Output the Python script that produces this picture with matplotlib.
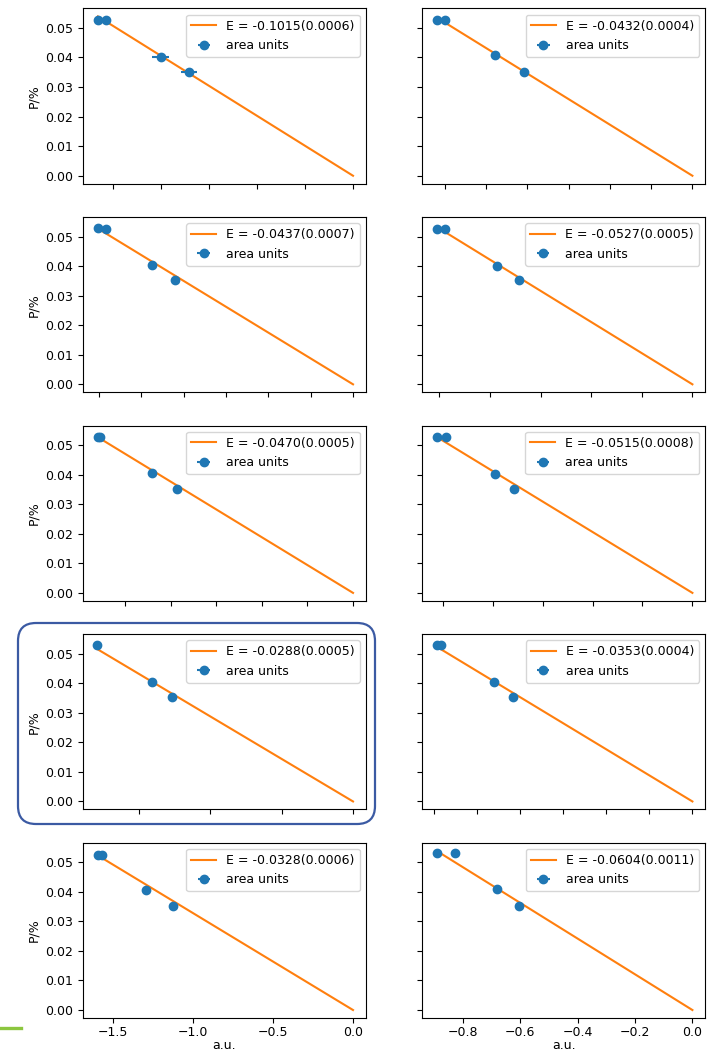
import matplotlib
matplotlib.use("Agg")
import matplotlib.pyplot as plt
import matplotlib.patches as mpatches
from matplotlib.lines import Line2D
from matplotlib.transforms import IdentityTransform

plt.rcParams['font.size'] = 9

# fitted slope E and its uncertainty for each run (row-major: left, right)
E_vals = [-0.1015, -0.0432, -0.0437, -0.0527, -0.0470,
          -0.0515, -0.0288, -0.0353, -0.0328, -0.0604]
E_errs = [0.0006, 0.0004, 0.0007, 0.0005, 0.0005,
          0.0008, 0.0005, 0.0004, 0.0006, 0.0011]

# measured points per run
x_pts = [
    [-0.531, -0.515, -0.400, -0.341],
    [-1.238, -1.198, -0.955, -0.818],
    [-1.207, -1.167, -0.950, -0.843],
    [-1.010, -0.977, -0.771, -0.685],
    [-1.121, -1.111, -0.883, -0.773],
    [-1.024, -0.987, -0.790, -0.715],
    [-1.789, -1.404, -1.268],
    [-1.483, -1.458, -1.151, -1.043],
    [-1.596, -1.571, -1.293, -1.126],
    [-0.891, -0.829, -0.681, -0.604],
]
y_pts = [
    [0.0527, 0.0527, 0.0402, 0.0352],
    [0.0528, 0.0528, 0.0409, 0.0352],
    [0.0529, 0.0524, 0.0405, 0.0352],
    [0.0524, 0.0524, 0.0401, 0.0352],
    [0.0526, 0.0526, 0.0404, 0.0351],
    [0.0528, 0.0528, 0.0403, 0.0351],
    [0.0528, 0.0404, 0.0354],
    [0.0528, 0.0528, 0.0405, 0.0354],
    [0.0524, 0.0524, 0.0405, 0.0353],
    [0.0530, 0.0530, 0.0408, 0.0352],
]
x_errs = [
    [0.004, 0.004, 0.018, 0.017],
    [0.008, 0.008, 0.008, 0.008],
    [0.008, 0.008, 0.008, 0.008],
    [0.006, 0.006, 0.006, 0.006],
    [0.008, 0.008, 0.008, 0.008],
    [0.006, 0.006, 0.006, 0.006],
    [0.010, 0.010, 0.010],
    [0.008, 0.008, 0.008, 0.008],
    [0.010, 0.010, 0.010, 0.010],
    [0.005, 0.005, 0.005, 0.005],
]

fig, axes = plt.subplots(5, 2, figsize=(7.16, 10.56), sharey=True)
fig.subplots_adjust(left=0.116, right=0.985, top=0.992, bottom=0.036,
                    hspace=0.19, wspace=0.2)

for i, ax in enumerate(axes.flat):
    x = x_pts[i]
    y = y_pts[i]
    x0 = min(x)
    ax.plot([x0, 0.0], [E_vals[i] * x0, 0.0], color='C1',
            label='E = {:.4f}({:.4f})'.format(E_vals[i], E_errs[i]))
    ax.errorbar(x, y, xerr=x_errs[i], fmt='o', color='C0', label='area units')
    ax.legend(loc='upper right')
    row, col = divmod(i, 2)
    if col == 0:
        ax.set_ylabel('P/%')
    if row < 4:
        ax.tick_params(labelbottom=False)
    else:
        ax.tick_params(axis='x', pad=2)
        ax.set_xlabel('a.u.', labelpad=0)

# highlight box around one run
box = mpatches.FancyBboxPatch((18, 1056 - 824), 357, 201,
                              boxstyle="round,pad=0,rounding_size=18",
                              fill=False, edgecolor='#3b5aa3', linewidth=1.6,
                              transform=IdentityTransform())
fig.add_artist(box)

# small accent bar, bottom left
fig.add_artist(Line2D([0, 21], [1056 - 1028, 1056 - 1028], color='#8cc63f',
                      linewidth=2.4, transform=IdentityTransform()))

fig.savefig('out.png', dpi=100)
